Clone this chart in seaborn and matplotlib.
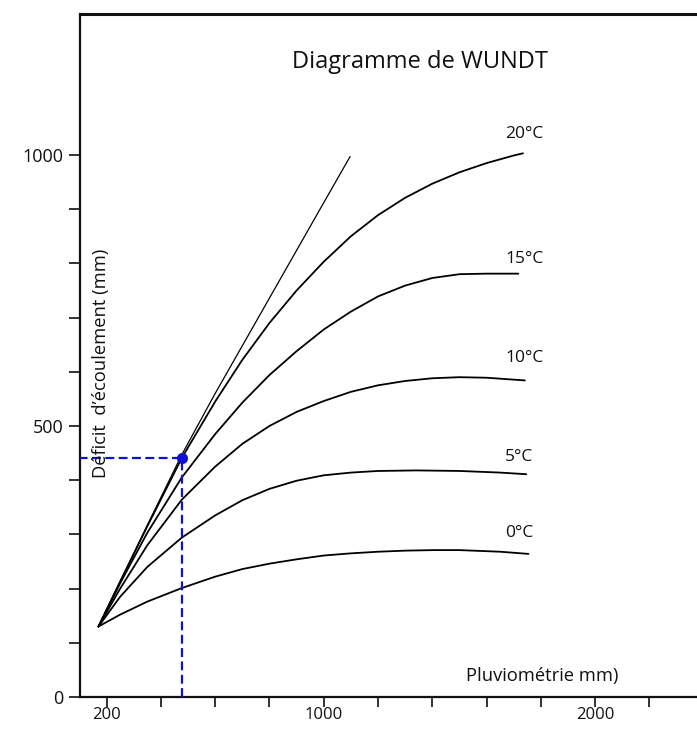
import matplotlib
matplotlib.use("Agg")
import matplotlib.pyplot as plt
import numpy as np
import pandas as pd
import seaborn as sns

# ---------------- data ----------------
limit_P = [170, 250, 350, 477, 600, 750, 900, 1000, 1097]
limit_D = [130, 213, 317, 447, 560, 692, 824, 912, 997]

t20_P = [170, 250, 350, 477, 600, 700, 800, 900, 1000, 1100, 1200, 1300, 1400, 1500, 1600, 1700, 1734]
t20_D = [130, 213, 315, 441, 545, 622, 690, 750, 803, 850, 889, 921, 947, 968, 985, 999, 1003]

t15_P = [170, 250, 350, 477, 600, 700, 800, 900, 1000, 1100, 1200, 1300, 1400, 1500, 1600, 1717]
t15_D = [130, 210, 303, 405, 485, 543, 594, 638, 678, 711, 739, 759, 773, 780, 781, 781]

t10_P = [170, 250, 350, 477, 600, 700, 800, 900, 1000, 1100, 1200, 1300, 1400, 1500, 1600, 1741]
t10_D = [130, 200, 280, 364, 425, 467, 500, 526, 546, 563, 575, 583, 588, 590, 589, 584]

t5_P = [170, 250, 350, 477, 600, 700, 800, 900, 1000, 1100, 1200, 1342, 1500, 1650, 1746]
t5_D = [130, 185, 240, 294, 335, 363, 384, 399, 409, 414, 417, 418, 417, 414, 411]

t0_P = [170, 250, 350, 477, 600, 700, 800, 900, 1000, 1100, 1200, 1300, 1404, 1500, 1650, 1754]
t0_D = [130, 152, 176, 201, 222, 236, 246, 254, 261, 265, 268, 270, 271, 271, 268, 264]

curve_labels = ["20°C", "15°C", "10°C", "5°C", "0°C"]
label_P = [1668, 1668, 1668, 1668, 1668]
label_D = [1039, 808, 625, 443, 303]

example_P = 477
example_D = 440

x_ticks = [200, 400, 600, 800, 1000, 1200, 1400, 1600, 1800, 2000, 2200]
x_ticklabels = ["200", "", "", "", "1000", "", "", "", "", "2000", ""]
y_ticks = [0, 100, 200, 300, 400, 500, 600, 700, 800, 900, 1000]
y_ticklabels = ["0", "", "", "", "", "500", "", "", "", "", "1000"]

title = "Diagramme de WUNDT"
xlabel = "Pluviométrie mm)"
ylabel = "Déficit  d’écoulement (mm)"

# ---------------- plotting ----------------
sns.set_theme(style="ticks")
plt.rcParams["font.family"] = ["Open Sans", "DejaVu Sans"]

fig = plt.figure(figsize=(6.97, 7.30), dpi=100)
ax = fig.add_axes([80 / 697, 33 / 730, 617 / 697, 683 / 730])

sns.lineplot(x=limit_P, y=limit_D, ax=ax, color="black", lw=0.9, sort=False)
for P, D in [(t20_P, t20_D), (t15_P, t15_D), (t10_P, t10_D), (t5_P, t5_D), (t0_P, t0_D)]:
    sns.lineplot(x=P, y=D, ax=ax, color="black", lw=1.3, sort=False)

for lab, px, dy in zip(curve_labels, label_P, label_D):
    ax.text(px, dy, lab, ha="left", va="center", fontsize=12.5, color="#111111")

blue = "#1010d0"
ax.hlines(example_D, 0, example_P, colors=blue, linestyles=(0, (4, 2)), lw=1.6, zorder=3)
ax.vlines(example_P, 0, example_D, colors=blue, linestyles=(0, (4, 2)), lw=1.6, zorder=3)
sns.scatterplot(x=[example_P], y=[example_D], ax=ax, color=blue, s=55, zorder=4, edgecolor=blue)

ax.set_xlim(102, 2375)
ax.set_ylim(0, 1260)
ax.set_xticks(x_ticks)
ax.set_xticklabels(x_ticklabels)
ax.set_yticks(y_ticks)
ax.set_yticklabels(y_ticklabels)
ax.tick_params(direction="out", width=1.2, colors="#111111")
ax.tick_params(axis="y", length=8, labelsize=13, pad=4)
ax.tick_params(axis="x", length=7, labelsize=12, pad=0)
ax.set_xlabel("")
ax.set_ylabel("")

for s in ["left", "bottom", "top"]:
    ax.spines[s].set_visible(True)
    ax.spines[s].set_color("#111111")
    ax.spines[s].set_linewidth(1.6)
ax.spines["top"].set_linewidth(2.2)
ax.spines["right"].set_visible(False)

fig.text(420 / 697, 1 - 62 / 730, title, ha="center", va="center", fontsize=17, color="#111111")
fig.text(542 / 697, 1 - 676 / 730, xlabel, ha="center", va="center", fontsize=13.2, color="#111111")
fig.text(101 / 697, 1 - 363 / 730, ylabel, ha="center", va="center", rotation=90, fontsize=13.2, color="#111111")

fig.savefig("out.png", dpi=100)
